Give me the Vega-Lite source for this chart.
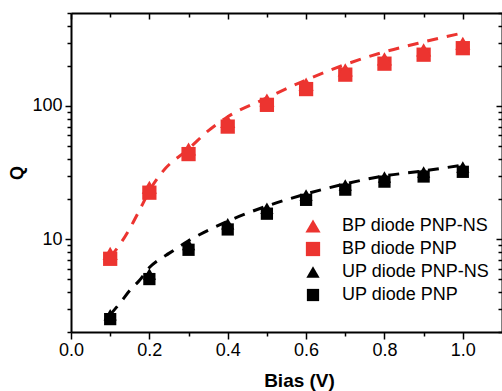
{
  "$schema": "https://vega.github.io/schema/vega-lite/v6.json",
  "width": 431,
  "height": 319,
  "autosize": {"type": "none"},
  "padding": {"left": 71, "top": 13, "right": 0, "bottom": 59},
  "background": "white",
  "config": {
    "view": {"stroke": null},
    "font": "Liberation Sans",
    "axis": {"domainColor": "black", "domainWidth": 2, "tickColor": "black", "tickWidth": 1.5, "labelColor": "black", "titleColor": "black", "grid": false, "labelFont": "Liberation Sans", "titleFont": "Liberation Sans", "labelFontSize": 18, "titleFontSize": 18, "titleFontWeight": "bold"}
  },
  "datasets": {
    "points": [
      {"series": "BP diode PNP", "x": 0.1, "q": 7.1},
      {"series": "BP diode PNP", "x": 0.2, "q": 22.3},
      {"series": "BP diode PNP", "x": 0.3, "q": 43.5},
      {"series": "BP diode PNP", "x": 0.4, "q": 70},
      {"series": "BP diode PNP", "x": 0.5, "q": 102},
      {"series": "BP diode PNP", "x": 0.6, "q": 134},
      {"series": "BP diode PNP", "x": 0.7, "q": 172},
      {"series": "BP diode PNP", "x": 0.8, "q": 208},
      {"series": "BP diode PNP", "x": 0.9, "q": 243},
      {"series": "BP diode PNP", "x": 1.0, "q": 272},
      {"series": "UP diode PNP", "x": 0.1, "q": 2.5},
      {"series": "UP diode PNP", "x": 0.2, "q": 5.0},
      {"series": "UP diode PNP", "x": 0.3, "q": 8.3},
      {"series": "UP diode PNP", "x": 0.4, "q": 11.8},
      {"series": "UP diode PNP", "x": 0.5, "q": 15.5},
      {"series": "UP diode PNP", "x": 0.6, "q": 19.7},
      {"series": "UP diode PNP", "x": 0.7, "q": 23.5},
      {"series": "UP diode PNP", "x": 0.8, "q": 27},
      {"series": "UP diode PNP", "x": 0.9, "q": 29.5},
      {"series": "UP diode PNP", "x": 1.0, "q": 32},
      {"series": "BP diode PNP-NS", "x": 0.1, "q": 7.8},
      {"series": "BP diode PNP-NS", "x": 0.2, "q": 24.5},
      {"series": "BP diode PNP-NS", "x": 0.3, "q": 47.5},
      {"series": "BP diode PNP-NS", "x": 0.4, "q": 76.5},
      {"series": "BP diode PNP-NS", "x": 0.5, "q": 111},
      {"series": "BP diode PNP-NS", "x": 0.6, "q": 146},
      {"series": "BP diode PNP-NS", "x": 0.7, "q": 187},
      {"series": "BP diode PNP-NS", "x": 0.8, "q": 226},
      {"series": "BP diode PNP-NS", "x": 0.9, "q": 264},
      {"series": "BP diode PNP-NS", "x": 1.0, "q": 296},
      {"series": "UP diode PNP-NS", "x": 0.1, "q": 2.7},
      {"series": "UP diode PNP-NS", "x": 0.2, "q": 5.45},
      {"series": "UP diode PNP-NS", "x": 0.3, "q": 9.1},
      {"series": "UP diode PNP-NS", "x": 0.4, "q": 13.0},
      {"series": "UP diode PNP-NS", "x": 0.5, "q": 17},
      {"series": "UP diode PNP-NS", "x": 0.6, "q": 21.4},
      {"series": "UP diode PNP-NS", "x": 0.7, "q": 25.5},
      {"series": "UP diode PNP-NS", "x": 0.8, "q": 29.2},
      {"series": "UP diode PNP-NS", "x": 0.9, "q": 31.9},
      {"series": "UP diode PNP-NS", "x": 1.0, "q": 34.8}
    ],
    "fits": [
      {"grp": "BP", "x": 0.1, "q": 7.3},
      {"grp": "BP", "x": 0.13, "q": 9.6},
      {"grp": "BP", "x": 0.15, "q": 12},
      {"grp": "BP", "x": 0.175, "q": 16.5},
      {"grp": "BP", "x": 0.2, "q": 23},
      {"grp": "BP", "x": 0.235, "q": 32.4},
      {"grp": "BP", "x": 0.3, "q": 47.5},
      {"grp": "BP", "x": 0.35, "q": 65},
      {"grp": "BP", "x": 0.4, "q": 83},
      {"grp": "BP", "x": 0.5, "q": 115},
      {"grp": "BP", "x": 0.6, "q": 157},
      {"grp": "BP", "x": 0.7, "q": 205},
      {"grp": "BP", "x": 0.8, "q": 255},
      {"grp": "BP", "x": 0.9, "q": 303},
      {"grp": "BP", "x": 1.0, "q": 354},
      {"grp": "UP", "x": 0.1, "q": 2.7},
      {"grp": "UP", "x": 0.125, "q": 3.3},
      {"grp": "UP", "x": 0.15, "q": 4.1},
      {"grp": "UP", "x": 0.175, "q": 4.9},
      {"grp": "UP", "x": 0.2, "q": 6.1},
      {"grp": "UP", "x": 0.225, "q": 7.0},
      {"grp": "UP", "x": 0.25, "q": 7.8},
      {"grp": "UP", "x": 0.3, "q": 9.7},
      {"grp": "UP", "x": 0.4, "q": 13.6},
      {"grp": "UP", "x": 0.5, "q": 17.7},
      {"grp": "UP", "x": 0.6, "q": 21.8},
      {"grp": "UP", "x": 0.7, "q": 26},
      {"grp": "UP", "x": 0.8, "q": 29.8},
      {"grp": "UP", "x": 0.9, "q": 32.5},
      {"grp": "UP", "x": 1.0, "q": 36}
    ]
  },
  "layer": [
    {
      "data": {"name": "fits"},
      "transform": [{"filter": "datum.grp == 'BP'"}],
      "mark": {"type": "line", "strokeWidth": 3, "strokeDash": [11, 9], "interpolate": "monotone", "color": "#ec3430"},
      "encoding": {
        "x": {"field": "x", "type": "quantitative", "scale": {"domain": [0, 1.1], "nice": false, "zero": false},
          "axis": {"orient": "bottom", "values": [0, 0.1, 0.2, 0.3, 0.4, 0.5, 0.6, 0.7, 0.8, 0.9, 1.0],
            "labelExpr": "round(datum.value*10)%2==0 ? format(datum.value,'.1f') : ''",
            "tickSize": {"condition": {"test": "round(datum.value*10)%2==1", "value": 4}, "value": 7},
            "labelPadding": 2, "labelFlush": false, "labelOverlap": false,
            "title": "Bias (V)", "titleFontSize": 19, "titleX": 228, "titleY": 48, "titleBaseline": "middle"}},
        "y": {"field": "q", "type": "quantitative", "scale": {"type": "log", "domain": [2, 500], "nice": false},
          "axis": {"orient": "left", "values": [2, 3, 4, 5, 6, 7, 8, 9, 10, 20, 30, 40, 50, 60, 70, 80, 90, 100, 200, 300, 400, 500],
            "labelExpr": "(datum.value == 10 || datum.value == 100) ? datum.label : ''",
            "tickSize": {"condition": {"test": "datum.value == 10 || datum.value == 100", "value": 6}, "value": 4},
            "labelPadding": 3, "labelOverlap": false, "labelFlush": false,
            "title": "Q", "titleX": -54, "titleBaseline": "middle"}}
      }
    },
    {
      "data": {"name": "fits"},
      "transform": [{"filter": "datum.grp == 'UP'"}],
      "mark": {"type": "line", "strokeWidth": 3, "strokeDash": [11, 9], "interpolate": "monotone", "color": "#000000"},
      "encoding": {
        "x": {"field": "x", "type": "quantitative", "axis": null},
        "y": {"field": "q", "type": "quantitative", "axis": null}
      }
    },
    {
      "data": {"name": "points"},
      "mark": {"type": "point", "filled": true, "opacity": 1, "strokeWidth": 0},
      "encoding": {
        "x": {"field": "x", "type": "quantitative",
          "axis": {"orient": "top", "values": [0, 0.1, 0.2, 0.3, 0.4, 0.5, 0.6, 0.7, 0.8, 0.9, 1.0], "labels": false, "title": null,
            "tickSize": {"condition": {"test": "round(datum.value*10)%2==1", "value": -4}, "value": -6}}},
        "y": {"field": "q", "type": "quantitative",
          "axis": {"orient": "right", "values": [2, 3, 4, 5, 6, 7, 8, 9, 10, 20, 30, 40, 50, 60, 70, 80, 90, 100, 200, 300, 400, 500], "labels": false, "title": null,
            "tickSize": {"condition": {"test": "datum.value == 10 || datum.value == 100", "value": -6}, "value": -4}}},
        "size": {"field": "series", "type": "nominal",
          "scale": {"domain": ["BP diode PNP-NS", "BP diode PNP", "UP diode PNP-NS", "UP diode PNP"], "range": [230, 150, 230, 150]}, "legend": null},
        "color": {"field": "series", "type": "nominal",
          "scale": {"domain": ["BP diode PNP-NS", "BP diode PNP", "UP diode PNP-NS", "UP diode PNP"], "range": ["#ec3430", "#ec3430", "#000000", "#000000"]},
          "legend": {"orient": "none", "legendX": 233, "legendY": 204, "title": null, "padding": 0, "labelFontSize": 18, "labelFont": "Liberation Sans", "labelColor": "black", "symbolSize": 150, "labelOffset": 20, "rowPadding": 5, "symbolStrokeWidth": 0}},
        "shape": {"field": "series", "type": "nominal",
          "scale": {"domain": ["BP diode PNP-NS", "BP diode PNP", "UP diode PNP-NS", "UP diode PNP"], "range": ["triangle-up", "square", "triangle-up", "square"]},
          "legend": {"orient": "none", "legendX": 233, "legendY": 204, "title": null, "padding": 0, "labelFontSize": 18, "labelFont": "Liberation Sans", "labelColor": "black", "symbolSize": 150, "labelOffset": 20, "rowPadding": 5, "symbolStrokeWidth": 0}}
      }
    }
  ],
  "resolve": {"axis": {"x": "independent", "y": "independent"}}
}
